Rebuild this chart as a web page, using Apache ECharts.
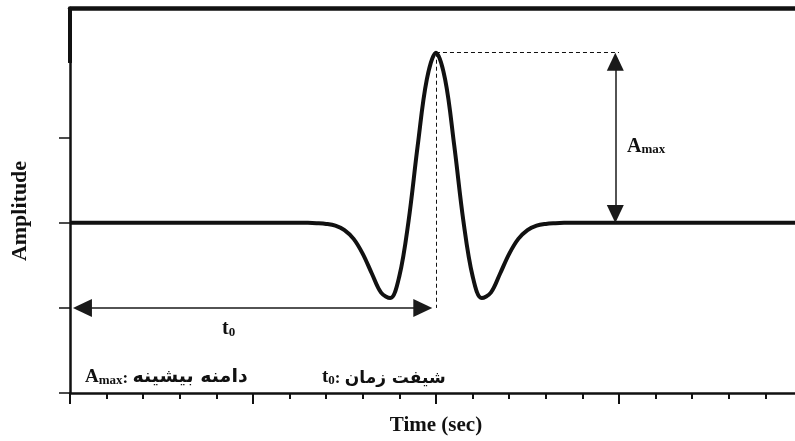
<!DOCTYPE html>
<html>
<head>
<meta charset="utf-8">
<script src="https://cdn.jsdelivr.net/npm/echarts@6/dist/echarts.min.js"></script>
<style>html,body{margin:0;padding:0;background:#fff}#c{width:795px;height:441px}</style>
</head>
<body>
<div id="c"></div>
<script>
// ---- data ----
const times = [0, 2, 4, 6, 6.25, 6.5, 6.75, 7, 7.25, 7.5, 7.75, 8, 8.25, 8.5, 8.75, 9, 9.25, 9.5, 9.75, 10,
  10.25, 10.5, 10.75, 11, 11.25, 11.5, 11.75, 12, 12.25, 12.5, 12.75, 13, 13.25, 13.5, 13.75, 14, 16, 18, 19.81];
const amplitude = [0, 0, 0, 0, 0, 0, -0.002, -0.006, -0.016, -0.042, -0.094, -0.182, -0.299, -0.41, -0.442, -0.312, 0.01, 0.453, 0.843, 1,
  0.843, 0.453, 0.01, -0.312, -0.442, -0.41, -0.299, -0.182, -0.094, -0.042, -0.016, -0.006, -0.002, 0, 0, 0, 0, 0, 0];
const yTickValues = [-1, -0.5, 0, 0.5];
const xMajorTicks = [0, 5, 10, 15];
const t0 = 10;
const aMax = 1;
const aMaxArrowX = 14.9;
const t0ArrowY = -0.5;
const xMin = 0, xMax = 19.81, yMin = -1, yMax = 1.263;

const chart = echarts.init(document.getElementById('c'), null, {renderer: 'canvas'});
const ink = '#111';
const serif = '"Liberation Serif", "Times New Roman", serif';
const persian = '"DejaVu Sans", sans-serif';

const dashStyle = {color: ink, width: 1, type: [4, 3]};
const arrowStyle = {color: '#1a1a1a', width: 1.5, type: 'solid'};
const yUnit = (yMax - yMin) / 387; // value per px
const xUnit = (xMax - xMin) / 725;

const option = {
  animation: false,
  backgroundColor: '#fff',
  grid: {left: 70, right: 0, top: 8, bottom: 46},
  xAxis: [{
    type: 'value', min: xMin, max: xMax, interval: 5,
    axisLine: {show: true, onZero: false, lineStyle: {color: ink, width: 2.5}},
    axisTick: {show: true, inside: false, length: 11, customValues: xMajorTicks, lineStyle: {color: ink, width: 2}},
    minorTick: {show: true, splitNumber: 5, length: 6, lineStyle: {color: ink, width: 2}},
    axisLabel: {show: false},
    splitLine: {show: false}, minorSplitLine: {show: false},
    name: 'Time (sec)', nameLocation: 'middle', nameGap: 22,
    nameTextStyle: {fontFamily: serif, fontWeight: 'bold', fontSize: 21, color: ink, padding: [0, 0, 0, 7]}
  }, {
    type: 'value', position: 'top', min: xMin, max: xMax,
    axisLine: {show: true, onZero: false, lineStyle: {color: ink, width: 4.5}},
    axisTick: {show: false}, axisLabel: {show: false}, splitLine: {show: false}
  }],
  yAxis: {
    type: 'value', min: yMin, max: yMax, interval: 0.5,
    axisLine: {show: true, onZero: false, lineStyle: {color: ink, width: 2.5}},
    axisTick: {show: true, inside: false, length: 11, customValues: yTickValues, lineStyle: {color: ink, width: 1.5}},
    axisLabel: {show: false},
    splitLine: {show: false}
  },
  series: [{
    type: 'line',
    data: times.map((t, i) => [t, amplitude[i]]),
    symbol: 'none',
    smooth: 0.35,
    lineStyle: {color: ink, width: 4},
    silent: true,
    markLine: {
      silent: true,
      symbol: 'none',
      label: {show: false},
      emphasis: {disabled: true},
      data: [
        [{coord: [t0, aMax], lineStyle: dashStyle}, {coord: [t0, t0ArrowY]}],
        [{coord: [t0, aMax], lineStyle: dashStyle}, {coord: [15, aMax]}],
        [{coord: [aMaxArrowX, aMax - 9 * yUnit], symbol: 'triangle', symbolSize: [17, 18], lineStyle: arrowStyle},
         {coord: [aMaxArrowX, 0 + 9 * yUnit], symbol: 'triangle', symbolSize: [17, 18]}],
        [{coord: [0.08 + 9.5 * xUnit, t0ArrowY], symbol: 'triangle', symbolSize: [18, 19], lineStyle: arrowStyle},
         {coord: [9.9 - 9.5 * xUnit, t0ArrowY], symbol: 'triangle', symbolSize: [18, 19]}],
        [{coord: [0, yMax], lineStyle: {color: ink, width: 4, type: 'solid'}}, {coord: [0, 0.94]}]
      ]
    }
  }],
  graphic: [
    {type: 'text', x: 20, y: 211, rotation: Math.PI / 2,
     style: {text: 'Amplitude', font: 'bold 22px ' + serif, fill: ink, align: 'center', verticalAlign: 'middle'}},
    {type: 'text', x: 627, y: 157,
     style: {text: '{a|A}{b|max}', fill: ink, align: 'left', verticalAlign: 'bottom',
       rich: {a: {font: 'bold 20px ' + serif, verticalAlign: 'bottom'}, b: {font: 'bold 13px ' + serif, verticalAlign: 'bottom', padding: [0, 0, 1, 0]}}}},
    {type: 'text', x: 222, y: 339,
     style: {text: '{a|t}{b|0}', fill: ink, align: 'left', verticalAlign: 'bottom',
       rich: {a: {font: 'bold 20px ' + serif, verticalAlign: 'bottom'}, b: {font: 'bold 13px ' + serif, verticalAlign: 'bottom'}}}},
    {type: 'text', x: 85, y: 387,
     style: {text: '{a|A}{b|max}{c|: }{p|دامنه بیشینه}', fill: ink, align: 'left', verticalAlign: 'bottom',
       rich: {a: {font: 'bold 19px ' + serif, verticalAlign: 'bottom'}, b: {font: 'bold 13px ' + serif, verticalAlign: 'bottom'},
              c: {font: 'bold 17px ' + serif, verticalAlign: 'bottom'}, p: {font: 'bold 19px ' + persian, verticalAlign: 'bottom'}}}},
    {type: 'text', x: 322, y: 387,
     style: {text: '{a|t}{b|0}{c|: }{p|شیفت زمان}', fill: ink, align: 'left', verticalAlign: 'bottom',
       rich: {a: {font: 'bold 19px ' + serif, verticalAlign: 'bottom'}, b: {font: 'bold 13px ' + serif, verticalAlign: 'bottom'},
              c: {font: 'bold 17px ' + serif, verticalAlign: 'bottom'}, p: {font: 'bold 17px ' + persian, verticalAlign: 'bottom'}}}}
  ]
};
chart.setOption(option);
</script>
</body>
</html>
